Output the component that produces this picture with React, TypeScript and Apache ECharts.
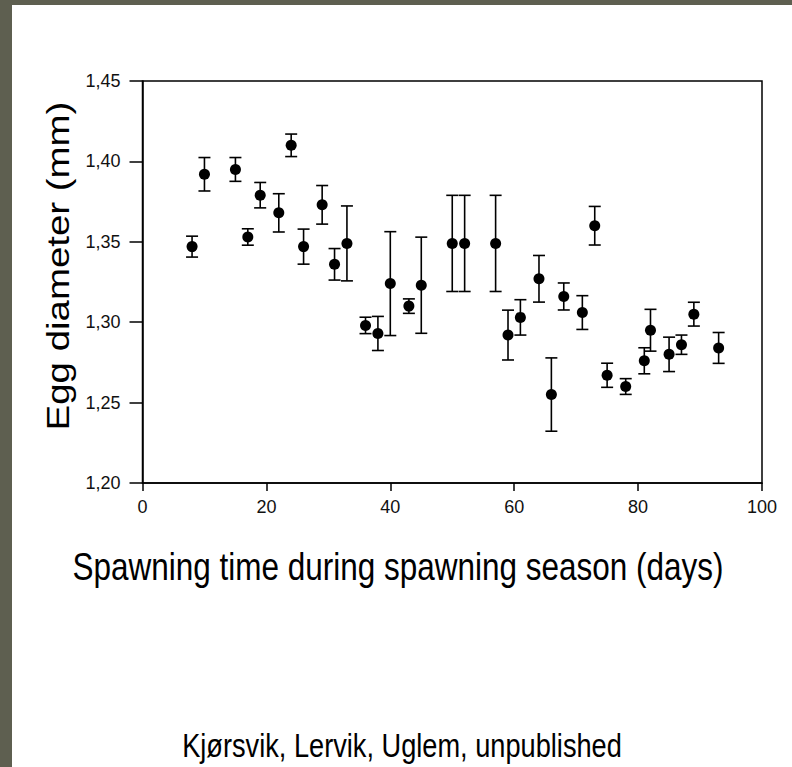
import React, { useEffect, useRef } from "react";
import * as echarts from "echarts";

// Spawning day, mean egg diameter (mm), error (± mm)
const days = [8, 10, 15, 17, 19, 22, 24, 26, 29, 31, 33, 36, 38, 40, 43, 45, 50, 52, 57, 59, 61, 64, 66, 68, 71, 73, 75, 78, 81, 82, 85, 87, 89, 93];
const diameters = [1.347, 1.392, 1.395, 1.353, 1.379, 1.368, 1.410, 1.347, 1.373, 1.336, 1.349, 1.298, 1.293, 1.324, 1.310, 1.323, 1.349, 1.349, 1.349, 1.292, 1.303, 1.327, 1.255, 1.316, 1.306, 1.360, 1.267, 1.260, 1.276, 1.295, 1.280, 1.286, 1.305, 1.284];
const errors = [0.0065, 0.0104, 0.0074, 0.0051, 0.0079, 0.0119, 0.0070, 0.0109, 0.0120, 0.0098, 0.0233, 0.0051, 0.0106, 0.0323, 0.0045, 0.0299, 0.0299, 0.0299, 0.0299, 0.0155, 0.0110, 0.0145, 0.0228, 0.0084, 0.0105, 0.0120, 0.0075, 0.0049, 0.0081, 0.0130, 0.0107, 0.0060, 0.0074, 0.0096];

const xTicks = [0, 20, 40, 60, 80, 100];
const yTicks = [1.2, 1.25, 1.3, 1.35, 1.4, 1.45];

const xTitle = "Spawning time during spawning season (days)";
const yTitle = "Egg diameter (mm)";
const credit = "Kjørsvik, Lervik, Uglem, unpublished";

const FONT = "'Liberation Sans', Arial, sans-serif";

export default function App() {
  const ref = useRef<HTMLDivElement>(null);

  useEffect(() => {
    if (!ref.current) return;
    const chart = echarts.init(ref.current, undefined, { renderer: "svg" });

    const points = days.map((d, i) => [d, diameters[i]]);
    const bars = days.map((d, i) => [d, diameters[i], errors[i]]);

    chart.setOption({
      animation: false,
      backgroundColor: "#ffffff",
      grid: {
        left: 142.5,
        right: 30,
        top: 81,
        bottom: 284,
        show: true,
        borderColor: "#000",
        borderWidth: 1.5,
        backgroundColor: "transparent",
      },
      xAxis: {
        type: "value",
        min: xTicks[0],
        max: xTicks[xTicks.length - 1],
        interval: 20,
        axisLine: { show: true, lineStyle: { color: "#000", width: 1.5 } },
        axisTick: { show: true, inside: false, length: 8, lineStyle: { color: "#000", width: 1.5 } },
        splitLine: { show: false },
        axisLabel: { fontSize: 18, color: "#111", fontFamily: FONT, margin: 15 },
      },
      yAxis: {
        type: "value",
        min: yTicks[0],
        max: yTicks[yTicks.length - 1],
        interval: 0.05,
        axisLine: { show: true, lineStyle: { color: "#000", width: 1.5 } },
        axisTick: { show: true, inside: false, length: 13, lineStyle: { color: "#000", width: 1.5 } },
        splitLine: { show: false },
        axisLabel: {
          fontSize: 18,
          color: "#111",
          fontFamily: FONT,
          margin: 22,
          formatter: (v: number) => v.toFixed(2).replace(".", ","),
        },
      },
      graphic: [
        { type: "rect", left: 0, top: 0, shape: { width: 792, height: 5 }, style: { fill: "#5e5f50" } },
        { type: "rect", left: 0, top: 0, shape: { width: 12, height: 767 }, style: { fill: "#5e5f50" } },
        {
          type: "text",
          x: 398,
          y: 566,
          scaleY: 1.22,
          style: { text: xTitle, fontSize: 31.5, fontFamily: FONT, fill: "#000", align: "center", verticalAlign: "middle" },
        },
        {
          type: "text",
          x: 58,
          y: 266,
          rotation: Math.PI / 2,
          scaleX: 1.22,
          style: { text: yTitle, fontSize: 31.5, fontFamily: FONT, fill: "#000", align: "center", verticalAlign: "middle" },
        },
        {
          type: "text",
          x: 402,
          y: 746,
          scaleY: 1.22,
          style: { text: credit, fontSize: 27.2, fontFamily: FONT, fill: "#000", align: "center", verticalAlign: "middle" },
        },
      ],
      series: [
        {
          type: "custom",
          name: "error",
          data: bars,
          encode: { x: 0, y: 1 },
          z: 2,
          renderItem: (params: any, api: any) => {
            const x = api.value(0);
            const y = api.value(1);
            const e = api.value(2);
            const top = api.coord([x, y + e]);
            const bot = api.coord([x, y - e]);
            const hw = 6;
            const style = { stroke: "#000", lineWidth: 1.6 };
            return {
              type: "group",
              children: [
                { type: "line", shape: { x1: top[0], y1: top[1], x2: bot[0], y2: bot[1] }, style },
                { type: "line", shape: { x1: top[0] - hw, y1: top[1], x2: top[0] + hw, y2: top[1] }, style },
                { type: "line", shape: { x1: bot[0] - hw, y1: bot[1], x2: bot[0] + hw, y2: bot[1] }, style },
              ],
            };
          },
        },
        {
          type: "scatter",
          name: "diameter",
          data: points,
          symbol: "circle",
          symbolSize: 11,
          z: 3,
          itemStyle: { color: "#000", opacity: 1 },
        },
      ],
    });

    return () => chart.dispose();
  }, []);

  return (
    <div
      ref={ref}
      style={{ position: "fixed", left: 0, top: 0, width: 792, height: 767, background: "#fff" }}
    />
  );
}
